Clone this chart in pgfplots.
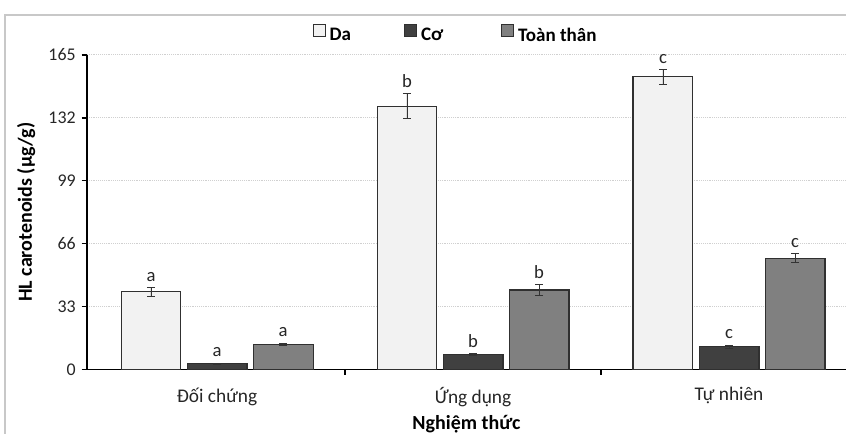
\documentclass[border=0pt]{standalone}
\usepackage{pgfplots}
\pgfplotsset{compat=1.18}
\usepackage{pgfplotstable}
\usepackage{fontspec}
\setmainfont{Carlito}

\definecolor{daFill}{HTML}{F2F2F2}
\definecolor{coFill}{HTML}{404040}
\definecolor{ttFill}{HTML}{808080}
\definecolor{barEdge}{HTML}{303030}
\definecolor{gridGray}{HTML}{D0D0D0}
\definecolor{frameGray}{HTML}{C8C8C8}

% carotenoid content (µg/g) with standard error and significance letters
\pgfplotstableread{
x  v      e    lab
0  40.8   2.2  a
1  138.2  6.4  b
2  153.6  3.8  c
}\da
\pgfplotstableread{
x  v      e    lab
0  2.9    0.3  a
1  7.8    0.4  b
2  12.0   0.8  c
}\co
\pgfplotstableread{
x  v      e    lab
0  13.2   0.6  a
1  41.7   2.8  b
2  58.4   2.3  c
}\tt

\begin{document}
\begin{tikzpicture}
\useasboundingbox (0,0) rectangle (634.5pt,325.5pt);
\draw[frameGray, line width=1.2pt] (3.75pt,0) -- (3.75pt,314.25pt) -- (640pt,314.25pt);
\begin{axis}[
  at={(65.25pt,48.375pt)}, anchor=south west,
  scale only axis, width=569.25pt, height=235.9pt,
  xmin=-0.508, xmax=2.457, ymin=0, ymax=165,
  axis x line=bottom, axis y line=left,
  axis line style={-, line width=1pt, black},
  xtick={0,1,2},
  xticklabels={Đối chứng, Ứng dụng, Tự nhiên},
  minor xtick={0.5,1.5},
  ytick={0,33,66,99,132,165},
  tick align=outside,
  major tick length=4pt, minor tick length=4pt,
  major x tick style={draw=none},
  minor x tick style={black, line width=1pt},
  major y tick style={black, line width=1pt},
  ymajorgrids, grid style={densely dotted, gridGray, line width=0.7pt},
  /pgf/number format/assume math mode=true,
  tick label style={text=black!85},
  yticklabel style={font=\fontsize{13.4pt}{15pt}\selectfont, xshift=-1pt},
  xticklabel style={font=\fontsize{14.5pt}{16pt}\selectfont, yshift=-6pt},
  xlabel={\textbf{Nghiệm thức}},
  ylabel={\textbf{HL carotenoids (µg/g)}},
  label style={font=\fontsize{15pt}{17pt}\selectfont},
  xlabel style={yshift=1pt},
  ylabel style={yshift=3pt},
  ybar, bar width=0.234,
  legend columns=3,
  legend style={at={(0.3004,1)}, anchor=south west, yshift=8.5pt, xshift=-2pt,
    draw=none, fill=none, inner sep=0pt,
    nodes={inner sep=0pt},
    font=\bfseries\fontsize{14.3pt}{16pt}\selectfont,
    /tikz/every odd column/.append style={column sep=3pt},
    /tikz/every even column/.append style={column sep=0pt}},
  legend image code/.code={\draw[#1, line width=0.7pt] (0pt,-0.5pt) rectangle (9pt,8.5pt);},
  error bars/y dir=both, error bars/y explicit,
  error bars/error mark options={rotate=90, mark size=3pt, line width=0.6pt, black!80},
  error bars/error bar style={line width=0.6pt, black!80},
  visualization depends on={\thisrow{e} \as \errv},
  nodes near coords,
  point meta=explicit symbolic,
  every node near coord/.append style={font=\fontsize{14pt}{16pt}\selectfont, text=black!85,
    yshift={\errv*235.9pt/165+1pt}},
]
\addplot[fill=daFill, draw=barEdge, line width=0.8pt, bar shift=-0.258]
  table[x=x, y=v, y error=e, meta=lab] {\da};
\addplot[fill=coFill, draw=barEdge, line width=0.8pt, bar shift=0]
  table[x=x, y=v, y error=e, meta=lab] {\co};
\addplot[fill=ttFill, draw=barEdge, line width=0.8pt, bar shift=0.258]
  table[x=x, y=v, y error=e, meta=lab] {\tt};
\legend{\makebox[56pt][l]{Da}, \makebox[60pt][l]{Cơ}, Toàn thân}
\end{axis}
\end{tikzpicture}
\end{document}
